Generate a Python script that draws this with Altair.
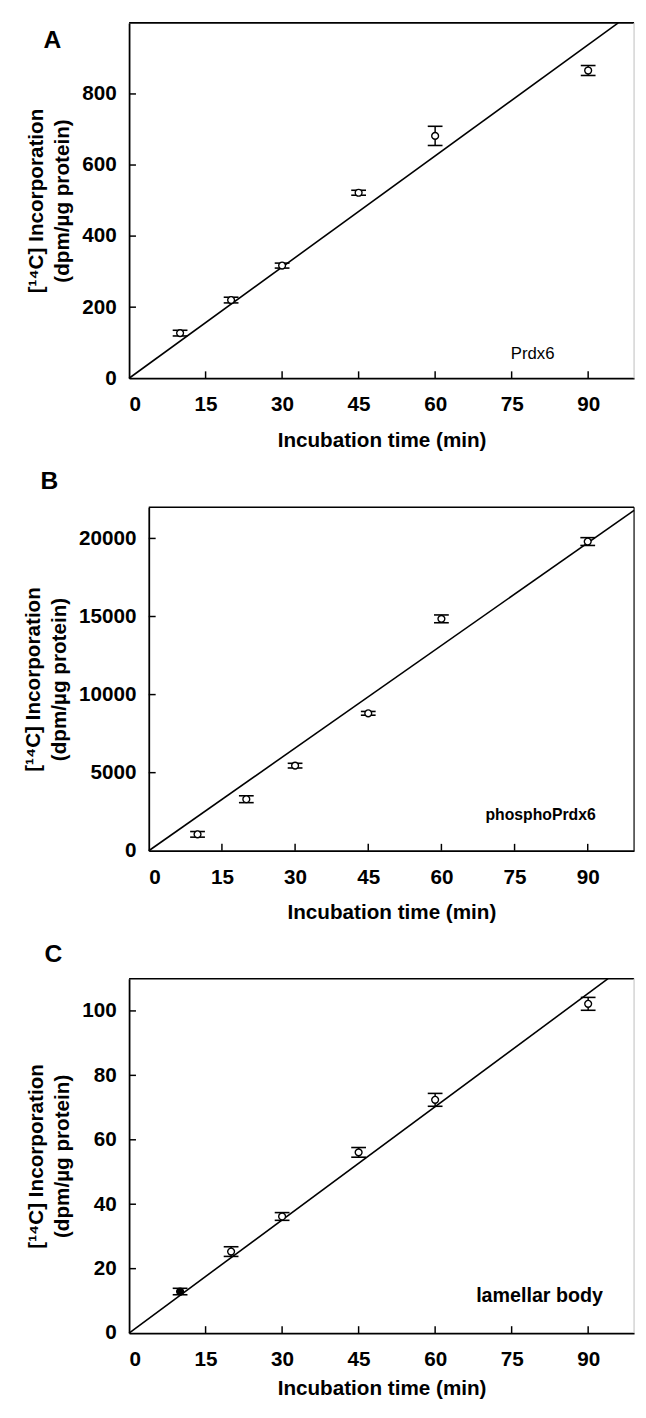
import altair as alt
import pandas as pd

# ---------------- data ----------------
time_min = [10, 20, 30, 45, 60, 90]

prdx6_mean = [127, 220, 317, 522, 682, 866]
prdx6_err = [8, 8, 7, 7, 27, 14]
prdx6_fit_x = [0, 95.9]
prdx6_fit_y = [0, 1000]

phospho_mean = [1050, 3300, 5450, 8800, 14850, 19800]
phospho_err = [180, 220, 150, 120, 250, 250]
phospho_fit_x = [0, 99.5]
phospho_fit_y = [0, 21800]

lamellar_mean = [12.9, 25.3, 36.2, 56.1, 72.4, 102.2]
lamellar_err = [1.0, 1.5, 1.2, 1.5, 2.0, 2.0]
lamellar_fit_x = [0, 93.9]
lamellar_fit_y = [0, 110]

x_ticks = [0, 15, 30, 45, 60, 75, 90]
prdx6_yticks = [0, 200, 400, 600, 800]
phospho_yticks = [0, 5000, 10000, 15000, 20000]
lamellar_yticks = [0, 20, 40, 60, 80, 100]

FONT = "Liberation Sans"
Y_TITLE = ["[¹⁴C] Incorporation", "(dpm/µg protein)"]


def panel(mean, err, fit_x, fit_y, yticks, ydomain, xdomain, width, height,
          left_shift, right_color, letter, letter_xy, label, label_xy,
          label_size, label_weight, x_label_pad, x_title_pad,
          filled_first=False):
    df = pd.DataFrame({
        "t": time_min,
        "m": mean,
        "lo": [m - e for m, e in zip(mean, err)],
        "hi": [m + e for m, e in zip(mean, err)],
    })
    fit = pd.DataFrame({"t": fit_x, "m": fit_y})
    frame = pd.DataFrame({"t": [xdomain[0]], "t2": [xdomain[1]],
                          "m": [ydomain[0]], "m2": [ydomain[1]]})
    xs = alt.Scale(domain=xdomain, nice=False, zero=False,
                   range=[left_shift, width])
    ys = alt.Scale(domain=ydomain, nice=False, zero=False)
    xa = alt.Axis(values=x_ticks, title="Incubation time (min)", ticks=False,
                  domain=True, grid=False, labelPadding=x_label_pad,
                  titlePadding=x_title_pad)
    ya = alt.Axis(values=yticks, title=Y_TITLE, ticks=False, domain=True,
                  grid=False, labelPadding=13, titlePadding=9, format="d",
                  offset=-left_shift)

    def X(f):
        return alt.X(f, type="quantitative", scale=xs, axis=xa)

    def Y(f):
        return alt.Y(f, type="quantitative", scale=ys, axis=ya)

    top_border = alt.Chart(frame).mark_rule(color="black", strokeWidth=1.6).encode(
        x=X("t"), x2="t2:Q", y=Y("m2"))
    right_border = alt.Chart(frame).mark_rule(color=right_color, strokeWidth=1.2).encode(
        x=X("t2"), y=Y("m"), y2="m2:Q")

    fit_line = alt.Chart(fit).mark_line(color="black", strokeWidth=1.6).encode(
        x=X("t"), y=Y("m"))

    err_rule = alt.Chart(df).mark_rule(color="black", strokeWidth=1.5).encode(
        x=X("t"), y=Y("lo"), y2="hi:Q")
    cap_lo = alt.Chart(df).mark_tick(orient="horizontal", color="black",
                                     size=15, thickness=1.6, opacity=1).encode(
        x=X("t"), y=Y("lo"))
    cap_hi = alt.Chart(df).mark_tick(orient="horizontal", color="black",
                                     size=15, thickness=1.6, opacity=1).encode(
        x=X("t"), y=Y("hi"))

    if filled_first:
        fill = alt.condition("datum.t == 10", alt.value("black"), alt.value("white"))
    else:
        fill = alt.value("white")
    pts = alt.Chart(df).mark_point(shape="circle", filled=True, size=48,
                                   stroke="black", strokeWidth=1.4,
                                   opacity=1).encode(
        x=X("t"), y=Y("m"), fill=fill)

    xt = alt.Chart(pd.DataFrame({"t": x_ticks[1:]})).mark_rule(
        color="black", strokeWidth=1.5).encode(
        x=X("t"), y=alt.value(height), y2=alt.value(height - 7))
    yt = alt.Chart(pd.DataFrame({"m": yticks[1:]})).mark_rule(
        color="black", strokeWidth=1.5).encode(
        y=Y("m"), x=alt.value(left_shift), x2=alt.value(left_shift + 7))

    letter_txt = alt.Chart(pd.DataFrame({"s": [letter]})).mark_text(
        font=FONT, fontSize=25, fontWeight="bold", align="center",
        baseline="middle", color="black").encode(
        text="s:N", x=alt.value(letter_xy[0]), y=alt.value(letter_xy[1]))

    label_txt = alt.Chart(pd.DataFrame({"s": [label]})).mark_text(
        font=FONT, fontSize=label_size, fontWeight=label_weight,
        align="center", baseline="alphabetic", color="black").encode(
        text="s:N", x=alt.value(label_xy[0]), y=alt.value(label_xy[1]))

    return alt.layer(top_border, right_border, fit_line, err_rule, cap_lo,
                     cap_hi, pts, xt, yt, letter_txt, label_txt).properties(
        width=width, height=height)


pA = panel(prdx6_mean, prdx6_err, prdx6_fit_x, prdx6_fit_y, prdx6_yticks,
           [0, 1000], [0, 99], 513, 361, 0, "#c8c8c8", "A", (-78, 18),
           "Prdx6", (410, 341), 17, "normal", 16, 15)
pB = panel(phospho_mean, phospho_err, phospho_fit_x, phospho_fit_y,
           phospho_yticks, [0, 22000], [0, 99.5], 513, 349, 20, "black",
           "B", (-81, -26), "phosphoPrdx6", (418, 318), 16, "bold", 16, 15)
pC = panel(lamellar_mean, lamellar_err, lamellar_fit_x, lamellar_fit_y,
           lamellar_yticks, [0, 110], [0, 99], 513, 360, 0, "#c8c8c8", "C",
           (-77, -25), "lamellar body", (417, 328), 20, "bold", 16, 8,
           filled_first=True)

chart = alt.vconcat(pA, pB, pC, spacing=20).properties(
    padding={"left": 14, "top": 0, "right": 0, "bottom": 0},
    background="white",
).configure_view(
    strokeWidth=0
).configure_axis(
    labelFont=FONT, labelFontSize=21, labelFontWeight="bold",
    labelColor="black", titleFont=FONT, titleFontSize=21,
    titleFontWeight="bold", titleColor="black", titleLineHeight=27,
    domainColor="black", domainWidth=1.8,
)

chart.save("out.html", embed_options={"renderer": "svg", "actions": False})
